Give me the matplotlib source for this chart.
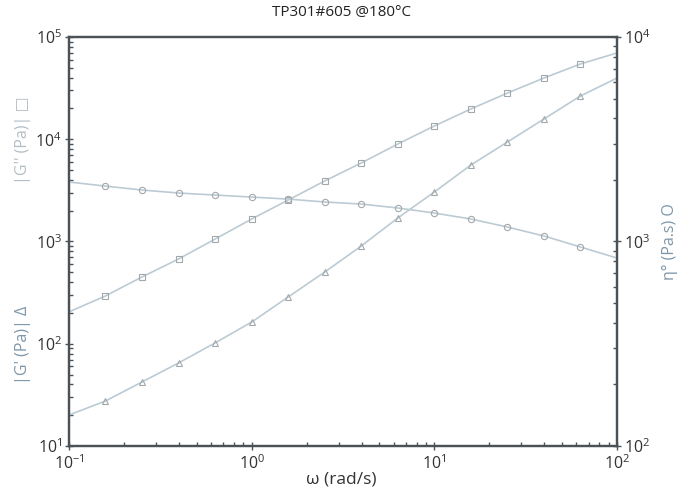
import numpy as np
import matplotlib
matplotlib.use("Agg")
import matplotlib.pyplot as plt
from matplotlib.ticker import LogLocator, NullFormatter

plt.rcParams['font.family'] = ['Open Sans', 'DejaVu Sans']
plt.rcParams['mathtext.default'] = 'regular'

omega = [0.1, 0.158, 0.251, 0.398, 0.631, 1.0, 1.585, 2.512, 3.981, 6.31,
         10.0, 15.85, 25.12, 39.81, 63.1, 100.0]
g2 = [205, 293, 450, 675, 1057, 1660, 2545, 3910, 5860, 8990,
      13490, 19770, 28300, 39700, 54500, 69800]
g1 = [20.1, 27.5, 42.3, 64.9, 102, 163, 287, 503, 904, 1698,
      3050, 5600, 9400, 15780, 26500, 39700]
eta = [1954, 1866, 1785, 1726, 1687, 1649, 1612, 1560, 1525, 1458,
       1378, 1288, 1177, 1064, 940, 830]

title = "TP301#605 @180°C"
xlabel = "ω (rad/s)"

line_c = '#bccbd3'
mk_c = '#a3a8ab'
spine_c = '#4a5258'

fig = plt.figure(figsize=(6.82, 4.92), dpi=100)
ax = fig.add_axes([0.1012, 0.0935, 0.8035, 0.8313])
ax2 = ax.twinx()

me = slice(1, 15)
ax.plot(omega, g2, color=line_c, lw=1.2, marker='s', ms=4.5, mfc='none',
        mec=mk_c, mew=0.8, markevery=me)
ax.plot(omega, g1, color=line_c, lw=1.2, marker='^', ms=4.5, mfc='none',
        mec=mk_c, mew=0.8, markevery=me)
ax2.plot(omega, eta, color=line_c, lw=1.2, marker='o', ms=4.5, mfc='none',
         mec=mk_c, mew=0.8, markevery=me)

ax.set_xscale('log'); ax.set_yscale('log'); ax2.set_yscale('log')
ax.set_xlim(0.1, 100)
ax.set_ylim(10, 1e5)
ax2.set_ylim(100, 1e4)

for a in (ax, ax2):
    for s in a.spines.values():
        s.set_color(spine_c)
        s.set_linewidth(1.6)
    a.tick_params(which='major', direction='inout', length=6, width=1,
                  color=spine_c, labelsize=11.5, labelcolor='#333333')
    a.tick_params(which='minor', direction='in', length=3, width=1, color=spine_c)

ax.xaxis.set_major_locator(LogLocator(base=10, numticks=10))
ax.xaxis.set_minor_locator(LogLocator(base=10, subs=np.arange(2, 10), numticks=20))
ax.xaxis.set_minor_formatter(NullFormatter())
ax.yaxis.set_major_locator(LogLocator(base=10, numticks=10))
ax.yaxis.set_minor_locator(LogLocator(base=10, subs=np.arange(2, 10), numticks=20))
ax.yaxis.set_minor_formatter(NullFormatter())
ax2.yaxis.set_major_locator(LogLocator(base=10, numticks=10))
ax2.yaxis.set_minor_locator(LogLocator(base=10, subs=np.arange(2, 10), numticks=20))
ax2.yaxis.set_minor_formatter(NullFormatter())
ax.tick_params(axis='x', pad=3)
ax.tick_params(axis='y', pad=2)
ax2.tick_params(axis='y', pad=2)

fig.text(0.5, 0.975, title, ha='center', va='center', fontsize=11, color='#222222')
fig.text(0.5, 0.025, xlabel, ha='center', va='center', fontsize=12.5, color='#333333')

fig.text(0.033, 0.715, "|G'' (Pa)| \u25a1", rotation=90, ha='center', va='center',
         fontsize=11.5, color='#b3bec6')
fig.text(0.033, 0.30, "|G' (Pa)| Δ", rotation=90, ha='center', va='center',
         fontsize=11.5, color='#7f97a9')
fig.text(0.982, 0.51, "η° (Pa.s) O", rotation=90, ha='center', va='center',
         fontsize=11.5, color='#7f97a9')

fig.savefig('out.png', dpi=100)
